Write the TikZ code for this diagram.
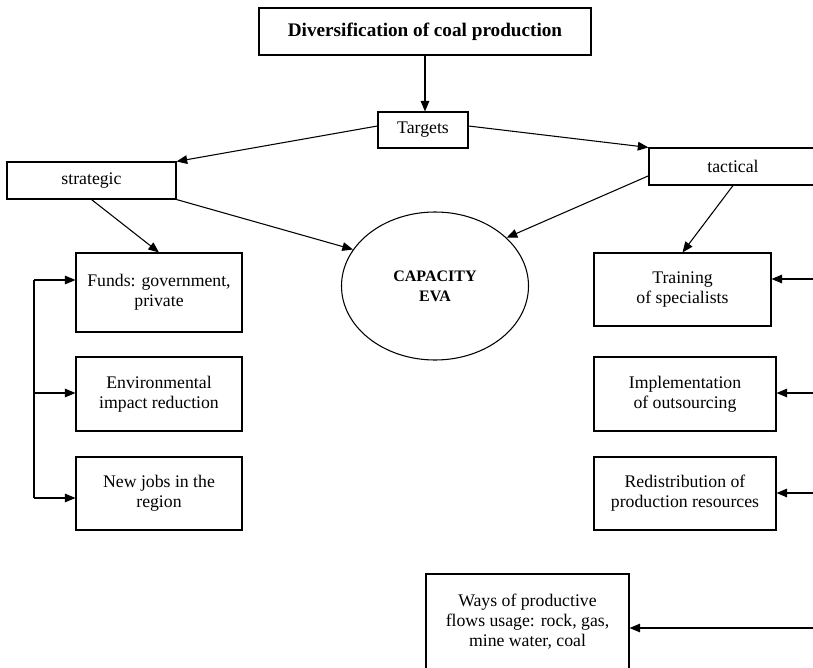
\documentclass[tikz,border=0pt]{standalone}
\usepackage{fontspec}
\setmainfont{Liberation Serif}
\usetikzlibrary{arrows.meta,shapes.geometric}

\begin{document}
\begin{tikzpicture}[x=0.75pt,y=-0.75pt,>={Triangle[length=8pt,width=6.5pt]},
  box/.style={draw,line width=0.8pt,align=center,inner sep=2pt,font=\fontsize{13.3}{15}\selectfont},
  boxsize/.style 2 args={minimum width=#1*0.75pt,minimum height=#2*0.75pt},
  link/.style={line width=0.8pt,->}]

\clip (0,0) rectangle (813,667);

\node[box,boxsize={332}{47},font=\bfseries\fontsize{14.4}{15}\selectfont] (diver) at (425,31.5) {Diversification of coal production};
\node[box,boxsize={90}{36}] (targets) at (423,130) {Targets};
\node[box,boxsize={169}{37}] (strategic) at (91.5,180.5) {strategic};
\node[box,boxsize={168}{37}] (tactical) at (733,166.5) {tactical};
\node[draw,line width=0.8pt,ellipse,align=center,boxsize={187}{148},font=\bfseries\fontsize{12}{15}\selectfont] (capacity) at (435,286) {CAPACITY\\EVA};

%strategic side
\node[box,boxsize={166}{79}] (funds) at (159,292.5) {Funds: government,\\private};
\node[box,boxsize={166}{74}] (env) at (159,394) {Environmental\\impact reduction};
\node[box,boxsize={166}{73}] (jobs) at (159,493.5) {New jobs in the\\region};

%tactical side
\node[box,boxsize={177}{73}] (training) at (682.5,289.5) {Training\\of specialists};
\node[box,boxsize={182}{74}] (impl) at (685,394) {Implementation\\of outsourcing};
\node[box,boxsize={182}{73}] (redist) at (685,493.5) {Redistribution of\\production resources};
\node[box,boxsize={203}{96}] (ways) at (527.5,622) {Ways of productive\\flows usage: rock, gas,\\mine water, coal};

%Arrows
\draw[link] (diver.south) -- (diver.south |- targets.north);
\draw[link] ([yshift=3pt]targets.west) -- (strategic.north east);
\draw[link] ([yshift=3pt]targets.east) -- (tactical.north west);
\draw[link] (strategic.south east) -- (capacity.156);
\draw[link] ([yshift=-7pt]tactical.west) -- (capacity.34);
\draw[link] (strategic.south) -- (funds.north);
\draw[link] (tactical.south) -- (training.north);

\coordinate (bustop) at (34,280);
\coordinate (busmid) at (34,393);
\coordinate (busbot) at (34,498);
\draw[line width=0.8pt] (bustop) -- (busbot);
\draw[link] (bustop) -- (bustop -| funds.west);
\draw[link] (busmid) -- (busmid -| env.west);
\draw[link] (busbot) -- (busbot -| jobs.west);

\coordinate (rtrain) at (813,279);
\coordinate (rimpl) at (813,393);
\coordinate (rredist) at (813,493);
\coordinate (rways) at (813,628);
\draw[link] (rtrain) -- (rtrain -| training.east);
\draw[link] (rimpl) -- (rimpl -| impl.east);
\draw[link] (rredist) -- (rredist -| redist.east);
\draw[link] (rways) -- (rways -| ways.east);

\end{tikzpicture}
\end{document}
